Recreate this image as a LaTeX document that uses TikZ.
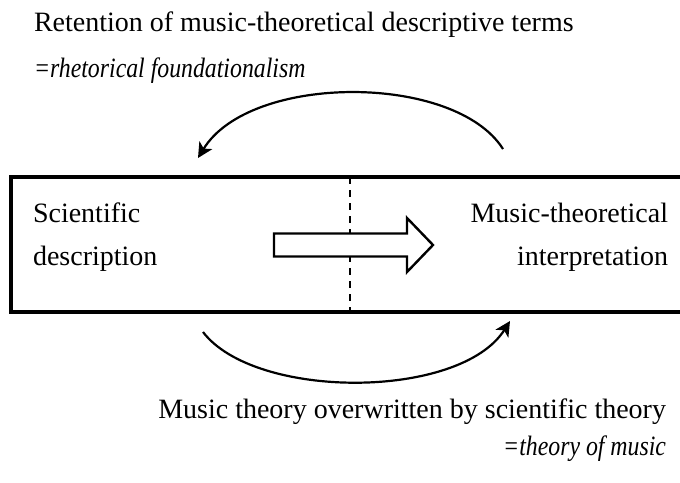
\documentclass[tikz,border=0pt]{standalone}
\usepackage{fontspec}
\setmainfont{Liberation Serif}
\newfontfamily\narrowit{Liberation Serif}[FakeStretch=0.85]
\usetikzlibrary{arrows.meta}

\tikzset{
  label text/.style={font=\fontsize{28}{32}\selectfont, inner sep=0pt, outer sep=0pt},
  term text/.style={font=\fontsize{28}{32}\selectfont\narrowit\itshape, inner sep=0pt, outer sep=0pt},
  frame box/.style={draw, line width=3.4pt, inner sep=0pt, outer sep=0pt},
  divider/.style={line width=1.4pt, dash pattern=on 7pt off 6pt},
  block arrow/.style={draw, line width=2.4pt, line join=miter, fill=white},
  bend arrow/.style={line width=2.2pt, -{Stealth[length=15pt, width=15pt, inset=4pt]}}
}

\begin{document}
\begin{tikzpicture}[x=1pt, y=-1pt]
  \useasboundingbox (0,0) rectangle (680,482);
  \clip (0,0) rectangle (680,482);

  % main frame (its right side runs off the page)
  \node[frame box, minimum width=700pt, minimum height=135pt, anchor=north west] (frame) at (11,177) {};

  % dashed divider
  \coordinate (dtop) at (350,177);
  \coordinate (dbot) at (350,312);
  \draw[divider] (dtop) -- (dbot);

  % hollow block arrow across the divider
  \draw[block arrow] (274,233.5) -- (407,233.5) -- (407,218) -- (433,245)
        -- (407,272) -- (407,256.5) -- (274,256.5) -- cycle;

  % texts inside the frame
  \node[label text, anchor=base west] (sci1) at (33,222) {Scientific};
  \node[label text, anchor=base west] (sci2) at (33,265) {description};
  \node[label text, anchor=base east] (mus1) at (668,222) {Music-theoretical};
  \node[label text, anchor=base east] (mus2) at (668,265) {interpretation};

  % upper caption
  \node[label text, anchor=base west] (ret) at (34,31) {Retention of music-theoretical descriptive terms};
  \node[term text, anchor=base west] (rhet) at (34,77) {=rhetorical foundationalism};

  % lower caption
  \node[label text, anchor=base east] (over) at (666,418) {Music theory overwritten by scientific theory};
  \node[term text, anchor=base east] (theo) at (666,455) {=theory of music};

  % curved arrows
  \coordinate (ta) at (503,149);
  \coordinate (tb) at (198,158);
  \draw[bend arrow] (ta) .. controls (455,73) and (250,73) .. (tb);

  \coordinate (ba) at (203,332);
  \coordinate (bb) at (510,321);
  \draw[bend arrow] (ba) .. controls (255,400) and (460,400) .. (bb);
\end{tikzpicture}
\end{document}
